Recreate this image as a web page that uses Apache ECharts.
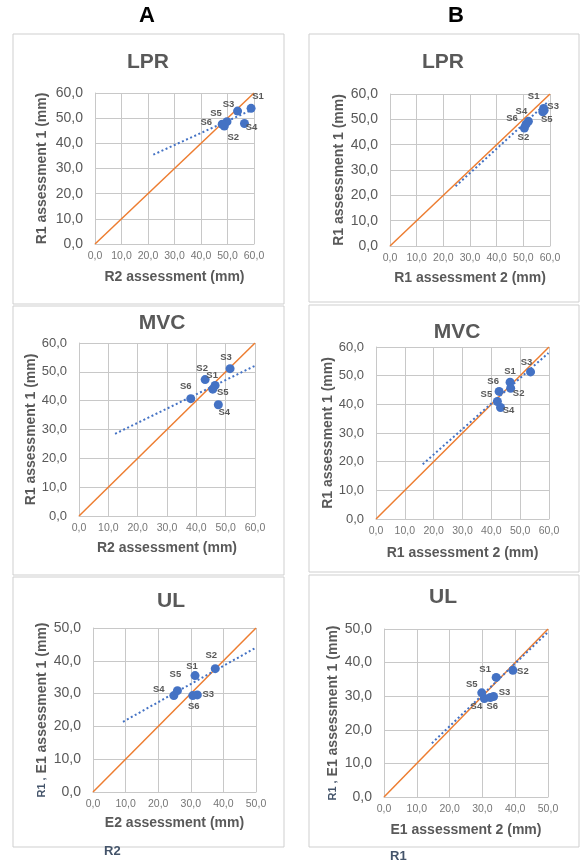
<!DOCTYPE html>
<html>
<head>
<meta charset="utf-8">
<script src="https://cdn.jsdelivr.net/npm/echarts@6/dist/echarts.min.js"></script>
<style>
  html, body { margin: 0; background: #fff; }
  #chart { width: 585px; height: 864px; }
</style>
</head>
<body>
<div id="chart"></div>
<script>
// subject names (same order in every panel)
const pointNames = ['S1', 'S2', 'S3', 'S4', 'S5', 'S6'];

// tick labels (decimal comma)
const ticks60 = ['0,0', '10,0', '20,0', '30,0', '40,0', '50,0', '60,0'];
const ticks50 = ['0,0', '10,0', '20,0', '30,0', '40,0', '50,0'];

// LPR - column A (R2 vs R1) and B (R1 assessment 2 vs 1)
const lprA_x = [58.9, 48.8, 53.8, 56.4, 49.8, 48.0];
const lprA_y = [53.9, 46.9, 52.8, 47.9, 48.6, 47.6];
const lprA_trendX = [22.0, 59.0];
const lprA_trendY = [35.5, 53.2];

const lprB_x = [57.6, 50.4, 57.8, 51.9, 57.3, 51.0];
const lprB_y = [54.3, 46.6, 53.6, 49.2, 53.0, 48.0];
const lprB_trendX = [24.6, 59.5];
const lprB_trendY = [23.6, 57.2];

// MVC
const mvcA_x = [46.4, 43.0, 51.5, 47.5, 45.6, 38.1];
const mvcA_y = [45.3, 47.3, 51.1, 38.6, 44.0, 40.7];
const mvcA_trendX = [12.3, 60.0];
const mvcA_trendY = [28.5, 52.1];

const mvcB_x = [46.5, 46.7, 53.6, 43.2, 42.1, 42.7];
const mvcB_y = [47.7, 45.6, 51.3, 38.9, 41.0, 44.5];
const mvcB_trendX = [16.2, 59.8];
const mvcB_trendY = [19.1, 57.9];

// UL
const ulA_x = [31.3, 37.5, 32.0, 24.8, 25.9, 30.6];
const ulA_y = [35.5, 37.6, 29.6, 29.4, 30.9, 29.4];
const ulA_trendX = [9.2, 49.8];
const ulA_trendY = [21.4, 43.9];

const ulB_x = [34.2, 39.3, 33.4, 30.6, 29.8, 32.4];
const ulB_y = [35.6, 37.7, 29.9, 29.3, 31.0, 29.6];
const ulB_trendX = [14.6, 50.0];
const ulB_trendY = [16.0, 49.1];

// layout of the six panels (pixels)
const panels = [
  { title: 'LPR', xs: lprA_x, ys: lprA_y, tx: lprA_trendX, ty: lprA_trendY, ticks: ticks60,
    grid: [95, 93, 159, 151], titlePos: [148, 52], box: [13, 34, 271, 270],
    xName: 'R2 assessment (mm)', yName: 'R1 assessment 1 (mm)', xGap: 26, yGap: 46, yFont: 14,
    offs: [[7, -12], [9, 11], [-9, -7], [7, 4], [-11, -8], [-16, -2]] },
  { title: 'LPR', xs: lprB_x, ys: lprB_y, tx: lprB_trendX, ty: lprB_trendY, ticks: ticks60,
    grid: [390, 94, 160, 152], titlePos: [443, 52], box: [309, 34, 270, 268],
    xName: 'R1 assessment 2 (mm)', yName: 'R1 assessment 1 (mm)', xGap: 25, yGap: 44, yFont: 14,
    offs: [[-10, -12], [-1, 9], [9, -4], [-7, -10], [4, 8], [-14, -6]] },
  { title: 'MVC', xs: mvcA_x, ys: mvcA_y, tx: mvcA_trendX, ty: mvcA_trendY, ticks: ticks60,
    grid: [79, 343, 176, 173], titlePos: [162, 313], box: [13, 306, 271, 269],
    xName: 'R2 assessment (mm)', yName: 'R1 assessment 1 (mm)', xGap: 25, yGap: 40, yFont: 13,
    offs: [[-3, -10], [-3, -11], [-4, -11], [6, 8], [10, 3], [-5, -12]] },
  { title: 'MVC', xs: mvcB_x, ys: mvcB_y, tx: mvcB_trendX, ty: mvcB_trendY, ticks: ticks60,
    grid: [376, 347, 173, 172], titlePos: [457, 322], box: [309, 305, 270, 267],
    xName: 'R1 assessment 2 (mm)', yName: 'R1 assessment 1 (mm)', xGap: 27, yGap: 40, yFont: 13,
    offs: [[0, -11], [8, 5], [-4, -10], [8, 3], [-11, -7], [-6, -10]] },
  { title: 'UL', xs: ulA_x, ys: ulA_y, tx: ulA_trendX, ty: ulA_trendY, ticks: ticks50,
    grid: [93, 628, 163, 164], titlePos: [171, 591], box: [13, 577, 271, 270],
    xName: 'E2 assessment (mm)', yName: '{r|R1 ,} E1 assessment 1 (mm)', xGap: 24, yGap: 44, yFont: 14,
    offs: [[-3, -9], [-4, -13], [11, -1], [-15, -6], [-2, -16], [1, 11]] },
  { title: 'UL', xs: ulB_x, ys: ulB_y, tx: ulB_trendX, ty: ulB_trendY, ticks: ticks50,
    grid: [384, 629, 164, 168], titlePos: [443, 587], box: [309, 575, 270, 272],
    xName: 'E1 assessment 2 (mm)', yName: '{r|R1 ,} E1 assessment 1 (mm)', xGap: 26, yGap: 44, yFont: 14,
    offs: [[-11, -8], [10, 1], [11, -4], [-8, 8], [-10, -8], [2, 9]] }
];

const blue = '#4472C4';
const orange = '#ED7D31';
const gray = '#595959';
const gridColor = '#c8c8c8';
const font = 'Liberation Sans, Arial, sans-serif';

const chart = echarts.init(document.getElementById('chart'));

const option = {
  animation: false,
  backgroundColor: '#fff',
  textStyle: { fontFamily: font },
  title: [
    { text: 'A', left: 147, top: 5, textAlign: 'center', padding: 0,
      textStyle: { fontSize: 22, fontWeight: 'bold', color: '#000', fontFamily: font } },
    { text: 'B', left: 456, top: 5, textAlign: 'center', padding: 0,
      textStyle: { fontSize: 22, fontWeight: 'bold', color: '#000', fontFamily: font } }
  ],
  grid: [],
  xAxis: [],
  yAxis: [],
  series: [],
  graphic: [
    { type: 'text', left: 104, top: 845, style: { text: 'R2', fill: '#44546A', font: 'bold 13px ' + font } },
    { type: 'text', left: 390, top: 850, style: { text: 'R1', fill: '#44546A', font: 'bold 13px ' + font } }
  ]
};

panels.forEach((p, i) => {
  const max = (p.ticks.length - 1) * 10;

  // panel frame
  option.graphic.push({
    type: 'rect', z: -1,
    shape: { x: p.box[0], y: p.box[1], width: p.box[2], height: p.box[3] },
    style: { fill: 'none', stroke: '#cfcfcf', lineWidth: 1 }
  });

  option.title.push({
    text: p.title, left: p.titlePos[0], top: p.titlePos[1], textAlign: 'center', padding: 0,
    textStyle: { fontSize: 21, fontWeight: 'bold', color: gray, fontFamily: font }
  });

  option.grid.push({
    left: p.grid[0], top: p.grid[1], width: p.grid[2], height: p.grid[3],
    outerBoundsMode: 'none', containLabel: false
  });

  option.xAxis.push({
    type: 'value', gridIndex: i, min: 0, max: max, interval: 10,
    name: p.xName, nameLocation: 'middle', nameGap: p.xGap,
    nameTextStyle: { fontSize: 14, fontWeight: 'bold', color: gray, fontFamily: font },
    axisLine: { show: true, lineStyle: { color: gridColor } },
    axisTick: { show: false },
    splitLine: { show: true, lineStyle: { color: gridColor } },
    axisLabel: { margin: 7, fontSize: 10.5, color: '#767676', fontFamily: font,
      formatter: v => p.ticks[Math.round(v / 10)] }
  });

  option.yAxis.push({
    type: 'value', gridIndex: i, min: 0, max: max, interval: 10,
    name: p.yName, nameLocation: 'middle', nameGap: p.yGap,
    nameTextStyle: { fontSize: 14, fontWeight: 'bold', color: gray, fontFamily: font,
      rich: { r: { fontSize: 11, fontWeight: 'bold', color: '#44546A', fontFamily: font } } },
    axisLine: { show: true, lineStyle: { color: gridColor } },
    axisTick: { show: false },
    splitLine: { show: true, lineStyle: { color: gridColor } },
    axisLabel: { margin: 12, fontSize: p.yFont, color: gray, fontFamily: font,
      formatter: v => p.ticks[Math.round(v / 10)] }
  });

  // line of identity
  option.series.push({
    type: 'line', xAxisIndex: i, yAxisIndex: i, symbol: 'none', z: 2,
    data: [[0, 0], [max, max]],
    lineStyle: { color: orange, width: 1.5 }
  });

  // linear trend (dotted)
  option.series.push({
    type: 'line', xAxisIndex: i, yAxisIndex: i, symbol: 'none', z: 3,
    data: p.tx.map((x, k) => [x, p.ty[k]]),
    lineStyle: { color: blue, width: 2, type: [2, 2.5] }
  });

  // subjects
  option.series.push({
    type: 'scatter', xAxisIndex: i, yAxisIndex: i, z: 4,
    symbolSize: 9,
    itemStyle: { color: blue, opacity: 1 },
    data: p.xs.map((x, k) => ({
      name: pointNames[k],
      value: [x, p.ys[k]],
      label: { offset: p.offs[k] }
    })),
    label: {
      show: true, position: 'inside', formatter: '{b}',
      fontSize: 9.5, fontWeight: 'bold', color: gray, fontFamily: font
    }
  });
});

chart.setOption(option);
</script>
</body>
</html>
